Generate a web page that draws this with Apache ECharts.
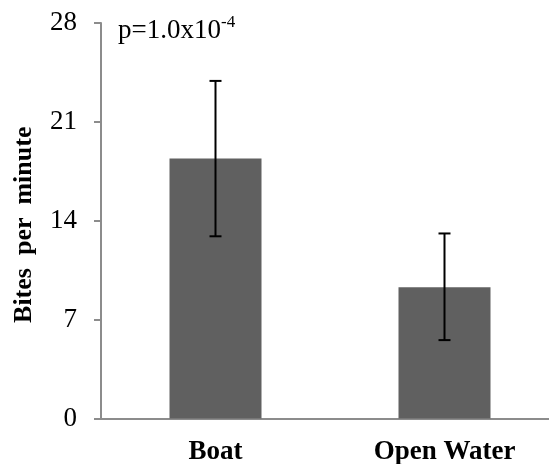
<!DOCTYPE html>
<html>
<head>
<meta charset="utf-8">
<script src="https://cdn.jsdelivr.net/npm/echarts@6/dist/echarts.min.js"></script>
<style>
  html, body { margin: 0; padding: 0; background: #fff; }
  #chart { width: 549px; height: 464px; }
</style>
</head>
<body>
<div id="chart"></div>
<script>
// Bite rates by location: mean with error range
const categories = ['Boat', 'Open Water'];
const meanBites = [18.4, 9.3];
const errorUpper = [23.9, 13.1];
const errorLower = [12.9, 5.55];
const yTicks = [0, 7, 14, 21, 28];

const SERIF = '"Liberation Serif", "Times New Roman", serif';
const AXIS_GREY = '#8c8c8c';

const chart = echarts.init(document.getElementById('chart'), null, { renderer: 'canvas' });

const errorData = categories.map((c, i) => [i, errorLower[i], errorUpper[i]]);

chart.setOption({
  animation: false,
  backgroundColor: '#ffffff',
  grid: {
    left: 101,
    top: 23,
    right: -10,
    bottom: 45.5,
    outerBoundsMode: 'none'
  },
  xAxis: {
    type: 'category',
    data: categories,
    axisLine: { lineStyle: { color: AXIS_GREY, width: 2 } },
    axisTick: { show: false },
    axisLabel: {
      margin: 20,
      fontFamily: SERIF,
      fontWeight: 'bold',
      fontSize: 27,
      color: '#000'
    },
    splitLine: { show: false }
  },
  yAxis: {
    type: 'value',
    min: yTicks[0],
    max: yTicks[yTicks.length - 1],
    interval: yTicks[1] - yTicks[0],
    name: 'Bites  per  minute',
    nameLocation: 'middle',
    nameGap: 64,
    nameRotate: 90,
    nameTextStyle: { fontFamily: SERIF, fontWeight: 'bold', fontSize: 26, color: '#000', padding: [0, 8, 0, 0] },
    axisLine: { show: true, lineStyle: { color: AXIS_GREY, width: 2 } },
    axisTick: { show: true, length: 7, lineStyle: { color: AXIS_GREY, width: 2 } },
    axisLabel: { margin: 24, fontFamily: SERIF, fontSize: 27, color: '#000' },
    splitLine: { show: false }
  },
  series: [
    {
      type: 'bar',
      data: meanBites,
      barWidth: 92,
      itemStyle: { color: '#606060' },
      z: 2
    },
    {
      type: 'custom',
      data: errorData,
      z: 5,
      renderItem: (params, api) => {
        const x = api.value(0);
        const lo = api.coord([x, api.value(1)]);
        const hi = api.coord([x, api.value(2)]);
        const cap = 6;
        const style = { stroke: '#000', lineWidth: 2 };
        return {
          type: 'group',
          children: [
            { type: 'line', shape: { x1: hi[0], y1: hi[1], x2: lo[0], y2: lo[1] }, style },
            { type: 'line', shape: { x1: hi[0] - cap, y1: hi[1], x2: hi[0] + cap, y2: hi[1] }, style },
            { type: 'line', shape: { x1: lo[0] - cap, y1: lo[1], x2: lo[0] + cap, y2: lo[1] }, style }
          ]
        };
      }
    }
  ],
  graphic: [
    {
      type: 'text',
      left: 118,
      top: 14,
      style: {
        text: '{base|p=1.0x10}{sup|-4}',
        rich: {
          base: { fontFamily: SERIF, fontSize: 27, color: '#000', lineHeight: 30, verticalAlign: 'bottom' },
          sup: { fontFamily: SERIF, fontSize: 17, color: '#000', lineHeight: 30, verticalAlign: 'top' }
        }
      }
    }
  ]
});
</script>
</body>
</html>
